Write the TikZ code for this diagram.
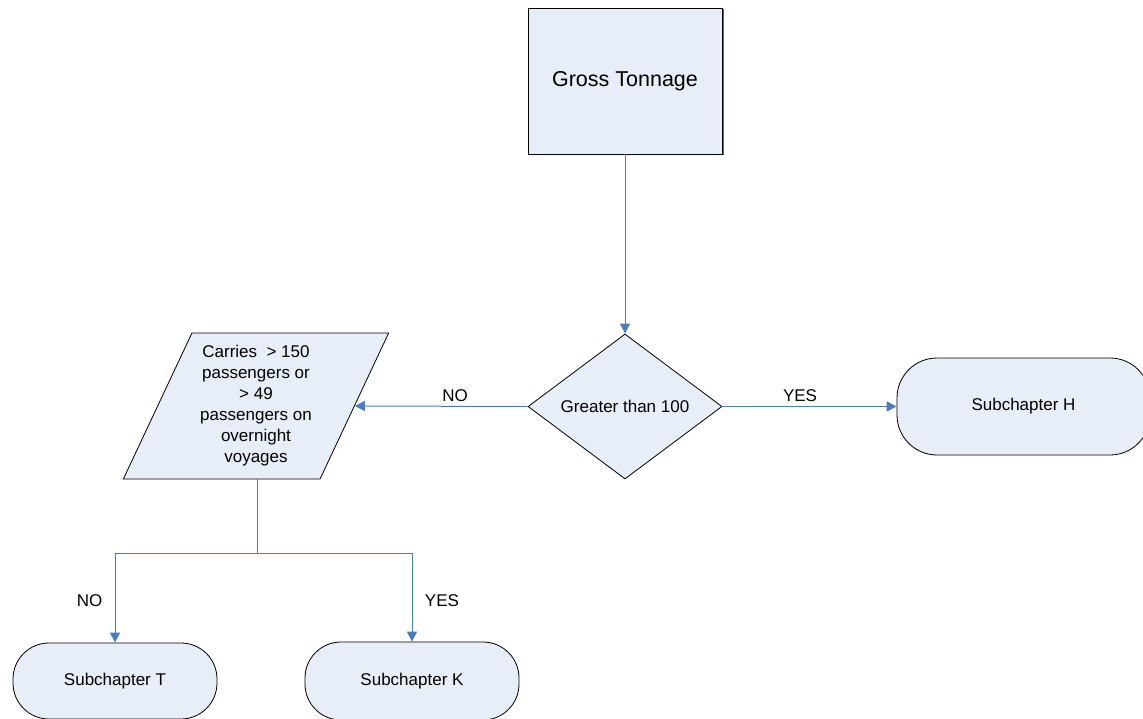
\documentclass[tikz,border=0pt]{standalone}
\usepackage{fontspec}
\setmainfont{Liberation Sans}
\usetikzlibrary{shapes.geometric,arrows.meta,shadows}
\definecolor{boxfill}{HTML}{E8EEF8}
\definecolor{linkblue}{HTML}{4A7EBB}
\begin{document}
\begin{tikzpicture}[x=1pt,y=-1pt,
  shapebox/.style={draw=black,fill=boxfill,line width=0.8pt,inner sep=0pt,align=center,
    font=\fontsize{17}{21}\selectfont},
  termbox/.style={shapebox,rectangle},
  link/.style={draw=linkblue,line width=1pt,-{Triangle[length=10pt,width=10pt]}},
  plainlink/.style={draw=linkblue,line width=1pt},
  lbl/.style={font=\fontsize{17}{21}\selectfont,inner sep=0pt}]
\useasboundingbox (0,0) rectangle (1143,719);
\node[shapebox,rectangle,minimum width=194pt,minimum height=146pt,
  drop shadow={shadow xshift=1.5pt,shadow yshift=-1.5pt,fill=black!60,opacity=1},
  font=\fontsize{21.5}{26}\selectfont] (gt) at (625,81) {Gross Tonnage};
\node[shapebox,diamond,minimum width=194pt,minimum height=145pt] (dia) at (625,406.5) {Greater than 100};
\node[shapebox,trapezium,trapezium left angle=63.7,trapezium right angle=116.3,
  trapezium stretches=true,minimum width=266pt,minimum height=146pt] (par) at (256,406)
  {Carries~ > 150\\passengers or\\> 49\\passengers on\\overnight\\voyages};
\node[termbox,rounded corners=40pt,minimum width=253pt,minimum height=97pt] (h) at (1023.5,406.5) {Subchapter H};
\node[termbox,rounded corners=36pt,minimum width=204pt,minimum height=76pt] (t) at (115,681) {Subchapter T};
\node[termbox,rounded corners=36pt,minimum width=214pt,minimum height=78pt] (k) at (412,681) {Subchapter K};
\coordinate (j) at (257,553);
\draw[link] (gt.south) -- (dia.north);
\draw[link] (dia.west) -- (par.east);
\draw[link] (dia.east) -- (h.west);
\draw[plainlink] (par.south -| j) -- (j);
\draw[link] (j) -| (t.north);
\draw[link] (j) -| (k.north);
\node[lbl] (no1) at (455,396) {NO};
\node[lbl] (yes1) at (800,396) {YES};
\node[lbl] (no2) at (89.5,601) {NO};
\node[lbl] (yes2) at (442,601) {YES};
\end{tikzpicture}
\end{document}
